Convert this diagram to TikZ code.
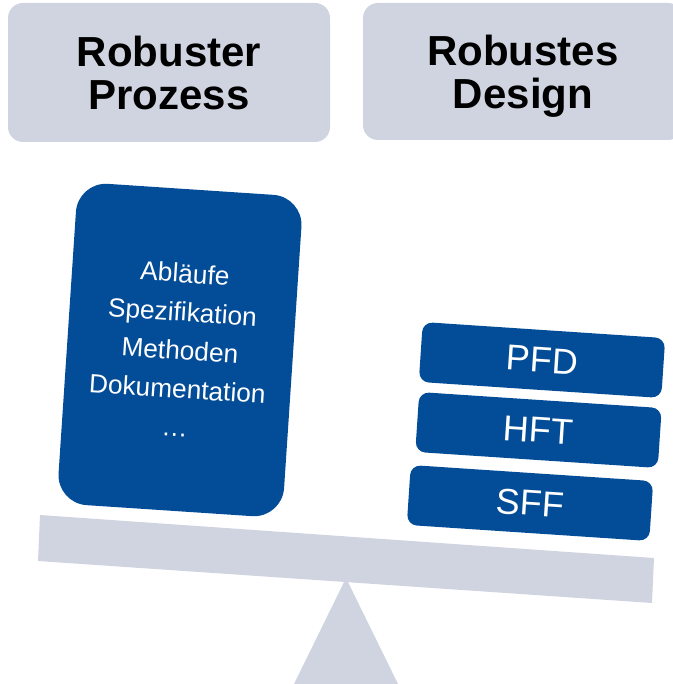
\documentclass[tikz,border=0pt]{standalone}
\usepackage{fontspec}
\setmainfont{Liberation Sans}
\definecolor{balgray}{HTML}{D0D4E0}
\definecolor{balblue}{HTML}{034C97}

\begin{document}
\begin{tikzpicture}[x=1pt,y=-1pt,
	head/.style={fill=balgray,rounded corners=15,align=center,inner sep=0pt,text depth=0pt,
		font=\fontsize{42}{43}\selectfont\bfseries},
	block/.style={fill=balblue,text=white,align=center,inner sep=0pt,text depth=0pt,rotate=-3.8}]
	\useasboundingbox (0,0) rectangle (672,684);
	\node[head,minimum width=322,minimum height=139] (prozess) at (169,72.5) {Robuster\\Prozess};
	\node[head,minimum width=320,minimum height=137] (design) at (523,71.5) {Robustes\\Design};
	\fill[balgray] (294,684) -- (346,578) -- (398,684) -- cycle;
	\fill[balgray] (40,515) -- (654,558) -- (652,603) -- (38,561) -- cycle;
	\node[block,rounded corners=30,minimum width=226,minimum height=322,font=\fontsize{26.3}{38.5}\selectfont] (ablauf) at (180,350)
		{Abläufe\\Spezifikation\\Methoden\\Dokumentation\\\ldots};
	\node[block,rounded corners=10,minimum width=243,minimum height=60,font=\fontsize{36}{36}\selectfont] (pfd) at (542,360) {PFD};
	\node[block,rounded corners=10,minimum width=243,minimum height=60,font=\fontsize{36}{36}\selectfont] (hft) at (538.5,430) {HFT};
	\node[block,rounded corners=10,minimum width=243,minimum height=60,font=\fontsize{36}{36}\selectfont] (sff) at (530,503) {SFF};
\end{tikzpicture}
\end{document}
